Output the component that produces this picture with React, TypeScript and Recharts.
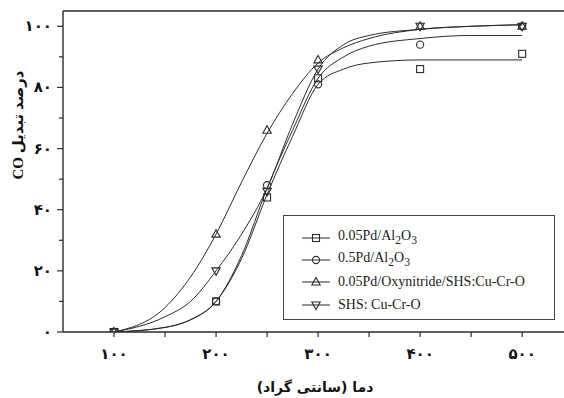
import React from 'react';
import { ComposedChart, Line, Scatter, XAxis, YAxis, ReferenceLine } from 'recharts';

// Measured temperatures (°C) and CO conversion (%) for each catalyst
const TEMPS = [100, 200, 250, 300, 400, 500];
const PD005_AL2O3 = [0, 10, 44, 83, 86, 91];
const PD05_AL2O3 = [0, 10, 48, 81, 94, 100];
const PD_OXY_SHS = [0, 32, 66, 89, 100, 100];
const SHS_CUCRO = [0, 20, 46, 86, 100, 100];

// Fitted curves
const FIT_TEMPS = [100, 150, 175, 200, 225, 250, 275, 300, 325, 350, 400, 450, 500];
const FIT_PD005 = [0, 1.5, 4, 10, 24, 45, 64, 81, 86, 88, 89, 89, 89];
const FIT_PD05 = [0, 1.5, 4, 10, 25, 47, 66, 83, 90, 93.5, 96, 97, 97];
const FIT_OXY = [0, 8, 18, 32, 49, 65, 78, 88, 93, 96, 99, 100, 100.5];
const FIT_SHS = [0, 5, 10, 20, 32, 47, 68, 86, 94, 97, 99, 100, 100.5];

const X_TICKS = [100, 150, 200, 250, 300, 350, 400, 450, 500];
const X_LABELS: Record<number, string> = { 100: '۱۰۰', 200: '۲۰۰', 300: '۳۰۰', 400: '۴۰۰', 500: '۵۰۰' };
const Y_TICKS = [0, 10, 20, 30, 40, 50, 60, 70, 80, 90, 100];
const Y_LABELS: Record<number, string> = { 0: '۰', 20: '۲۰', 40: '۴۰', 60: '۶۰', 80: '۸۰', 100: '۱۰۰' };

const X_TITLE = 'دما (سانتی گراد)';
const Y_TITLE = 'درصد تبدیل CO';

const INK = '#2b2b2b';

type MarkerKind = 'square' | 'circle' | 'triangle' | 'invtriangle';

const SERIES: { name: React.ReactNode; values: number[]; fit: number[]; marker: MarkerKind }[] = [
  { name: <>0.05Pd/Al<sub>2</sub>O<sub>3</sub></>, values: PD005_AL2O3, fit: FIT_PD005, marker: 'square' },
  { name: <>0.5Pd/Al<sub>2</sub>O<sub>3</sub></>, values: PD05_AL2O3, fit: FIT_PD05, marker: 'circle' },
  { name: '0.05Pd/Oxynitride/SHS:Cu-Cr-O', values: PD_OXY_SHS, fit: FIT_OXY, marker: 'triangle' },
  { name: 'SHS: Cu-Cr-O', values: SHS_CUCRO, fit: FIT_SHS, marker: 'invtriangle' },
];

function markerEl(kind: MarkerKind, cx: number, cy: number) {
  const common = { fill: 'none', stroke: INK, strokeWidth: 1.1 };
  if (kind === 'square') return <rect x={cx - 3.5} y={cy - 3.5} width={7} height={7} {...common} />;
  if (kind === 'circle') return <circle cx={cx} cy={cy} r={3.6} {...common} />;
  if (kind === 'triangle')
    return <polygon points={`${cx},${cy - 4.5} ${cx + 4.2},${cy + 3} ${cx - 4.2},${cy + 3}`} {...common} />;
  return <polygon points={`${cx},${cy + 4.5} ${cx + 4.2},${cy - 3} ${cx - 4.2},${cy - 3}`} {...common} />;
}

const XTick = (props: any) => {
  const { x, y, payload } = props;
  const label = X_LABELS[payload.value];
  return (
    <g>
      <line x1={x} x2={x} y1={y} y2={y + 5} stroke={INK} strokeWidth={1.2} />
      {label && (
        <text x={x} y={y + 27} textAnchor="middle" fontFamily="DejaVu Sans" fontWeight="bold" fontSize={15} fill="#111">
          {label}
        </text>
      )}
    </g>
  );
};

const YTick = (props: any) => {
  const { x, y, payload } = props;
  const label = Y_LABELS[payload.value];
  const len = label ? 6 : 4;
  return (
    <g>
      <line x1={x - len} x2={x} y1={y} y2={y} stroke={INK} strokeWidth={1.2} />
      {label && (
        <text x={x - 11} y={y + 5} textAnchor="end" fontFamily="DejaVu Sans" fontWeight="bold" fontSize={15} fill="#111">
          {label}
        </text>
      )}
    </g>
  );
};

export default function App() {
  return (
    <div style={{ position: 'absolute', left: 0, top: 0, width: 564, height: 398, background: '#fff' }}>
      <ComposedChart width={564} height={398} margin={{ top: 11, right: 0, bottom: 0, left: 0 }}>
        <XAxis
          dataKey="x"
          type="number"
          domain={[50, 541]}
          ticks={X_TICKS}
          interval={0}
          tickSize={0}
          tickMargin={0}
          tick={<XTick />}
          height={66}
          axisLine={{ stroke: INK, strokeWidth: 1.4 }}
          allowDataOverflow
        />
        <YAxis
          type="number"
          domain={[0, 105]}
          ticks={Y_TICKS}
          interval={0}
          tickSize={0}
          tickMargin={0}
          tick={<YTick />}
          width={63}
          axisLine={{ stroke: INK, strokeWidth: 1.4 }}
          allowDataOverflow
        />
        <ReferenceLine y={105} stroke={INK} strokeWidth={1.4} />
        {SERIES.map((s, i) => (
          <Line
            key={'fit' + i}
            data={FIT_TEMPS.map((t, j) => ({ x: t, y: s.fit[j] }))}
            dataKey="y"
            type="monotone"
            stroke={INK}
            strokeWidth={1}
            dot={false}
            activeDot={false}
            isAnimationActive={false}
            legendType="none"
          />
        ))}
        {SERIES.map((s, i) => (
          <Scatter
            key={'pts' + i}
            data={TEMPS.map((t, j) => ({ x: t, y: s.values[j] }))}
            dataKey="y"
            isAnimationActive={false}
            shape={(p: any) => markerEl(s.marker, p.cx, p.cy)}
          />
        ))}
        <text
          x={315}
          y={392}
          textAnchor="middle"
          fontFamily="DejaVu Sans"
          fontWeight="bold"
          fontSize={14}
          fill="#111"
          style={{ direction: 'rtl', unicodeBidi: 'plaintext' as any }}
        >
          {X_TITLE}
        </text>
        <text
          x={18}
          y={125}
          transform="rotate(-90 18 125)"
          textAnchor="middle"
          dominantBaseline="central"
          fontFamily='"Liberation Serif", "DejaVu Sans"'
          fontWeight="bold"
          fontSize={15}
          fill="#111"
          style={{ direction: 'rtl' }}
        >
          {Y_TITLE}
        </text>
      </ComposedChart>
      <div
        style={{
          position: 'absolute',
          left: 283,
          top: 215,
          width: 272,
          height: 105,
          boxSizing: 'border-box',
          border: '1.5px solid #444',
          background: '#fff',
          fontFamily: '"Liberation Serif", serif',
          fontSize: 14,
          color: '#222',
        }}
      >
        {SERIES.map((s, i) => (
          <div
            key={i}
            style={{
              position: 'absolute',
              left: 0,
              top: [22, 44, 66, 89][i] - 11,
              height: 22,
              display: 'flex',
              alignItems: 'center',
              whiteSpace: 'nowrap',
            }}
          >
            <svg width={54} height={22} style={{ display: 'block' }}>
              <line x1={18} x2={46} y1={11} y2={11} stroke={INK} strokeWidth={1} />
              {markerEl(s.marker, 32, 11)}
            </svg>
            <span style={{ lineHeight: '14px' }}>{s.name}</span>
          </div>
        ))}
      </div>
    </div>
  );
}
